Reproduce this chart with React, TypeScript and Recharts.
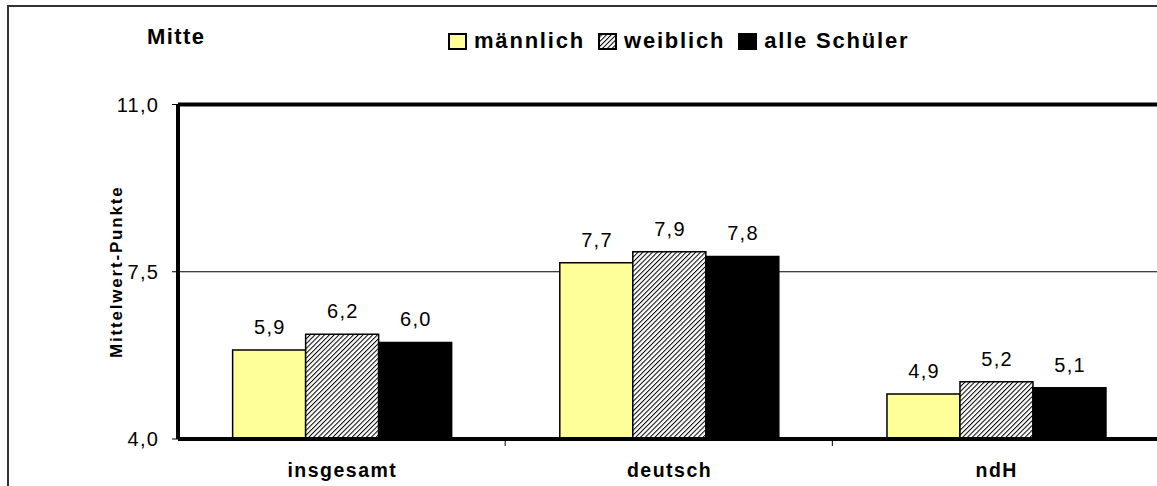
import { BarChart, Bar, XAxis, YAxis, CartesianGrid, ReferenceLine, LabelList } from 'recharts';

const categories = ['insgesamt', 'deutsch', 'ndH'];
const maennlich = [5.86, 7.69, 4.94];
const weiblich = [6.19, 7.92, 5.2];
const alleSchueler = [6.02, 7.82, 5.07];
const yTicks = [4, 7.5, 11];
const seriesNames = ['männlich', 'weiblich', 'alle Schüler'];

const data = categories.map((name, i) => ({
  name,
  m: maennlich[i],
  w: weiblich[i],
  a: alleSchueler[i],
}));

const FONT = '"Liberation Sans", Arial, Helvetica, sans-serif';

function fmt(v: number): string {
  return Number(v).toFixed(1).replace('.', ',');
}

function CategoryTick(props: any) {
  const { x, y, payload } = props;
  const half = payload && payload.offset ? payload.offset : 0;
  return (
    <g>
      {half > 0 && (
        <line x1={x + half} x2={x + half} y1={y - 6} y2={y - 1} stroke="#000" strokeWidth={1} />
      )}
      <text
        x={x}
        y={y + 30}
        dx={0.8}
        textAnchor="middle"
        style={{ fontSize: 19.5, fontWeight: 'bold', letterSpacing: 1.5, fontFamily: FONT }}
        fill="#000"
      >
        {payload.value}
      </text>
    </g>
  );
}

function ValueTick(props: any) {
  const { x, y, payload } = props;
  return (
    <text
      x={x + 1.3}
      y={y}
      textAnchor="end"
      dominantBaseline="central"
      style={{ fontSize: 20, letterSpacing: 1.3, fontFamily: FONT }}
      fill="#000"
    >
      {fmt(payload.value)}
    </text>
  );
}

function BarValue(props: any) {
  const { x, y, width, value } = props;
  return (
    <text
      x={x + width / 2 + 0.7}
      y={y - 16}
      textAnchor="middle"
      style={{ fontSize: 20, letterSpacing: 1.3, fontFamily: FONT }}
      fill="#000"
    >
      {fmt(value)}
    </text>
  );
}

function YTitle(props: any) {
  const vb = props.viewBox || { x: 116, y: 104.5, height: 334.5 };
  const cx = vb.x;
  const cy = vb.y + vb.height / 2;
  return (
    <text
      x={cx}
      y={cy}
      transform={`rotate(-90 ${cx} ${cy})`}
      textAnchor="middle"
      dominantBaseline="central"
      style={{ fontSize: 17, fontWeight: 'bold', letterSpacing: 1.8, fontFamily: FONT }}
      fill="#000"
    >
      Mittelwert-Punkte
    </text>
  );
}

function Swatch({ kind }: { kind: number }) {
  return (
    <svg width={19} height={17} style={{ display: 'block', marginRight: 7 }}>
      <defs>
        <pattern id="hatchLegend" patternUnits="userSpaceOnUse" width={3.4} height={3.4} patternTransform="rotate(45)">
          <rect width={3.4} height={3.4} fill="#fff" />
          <line x1={0} y1={0} x2={0} y2={3.4} stroke="#000" strokeWidth={2} />
        </pattern>
      </defs>
      <rect
        x={1}
        y={1}
        width={17}
        height={15}
        fill={kind === 0 ? '#FFFF99' : kind === 1 ? 'url(#hatchLegend)' : '#000'}
        stroke="#000"
        strokeWidth={2}
      />
    </svg>
  );
}

export default function App() {
  return (
    <div
      style={{
        position: 'absolute',
        left: 0,
        top: 0,
        width: 1157,
        height: 486,
        overflow: 'hidden',
        background: '#fff',
        fontFamily: FONT,
      }}
    >
      <div
        style={{
          position: 'absolute',
          left: 7,
          top: 5,
          width: 1400,
          height: 700,
          border: '2px solid #333',
        }}
      />
      <div
        style={{
          position: 'absolute',
          left: 147,
          top: 26,
          fontSize: 22,
          lineHeight: '22px',
          fontWeight: 'bold',
          letterSpacing: 1.4,
        }}
      >
        Mitte
      </div>
      <div
        style={{
          position: 'absolute',
          left: 448,
          top: 30,
          display: 'flex',
          alignItems: 'center',
          fontSize: 22,
          lineHeight: '22px',
          fontWeight: 'bold',
          letterSpacing: 1.8,
        }}
      >
        {seriesNames.map((n, i) => (
          <div key={n} style={{ display: 'flex', alignItems: 'center', marginRight: 13 }}>
            <Swatch kind={i} />
            <span>{n}</span>
          </div>
        ))}
      </div>
      <div style={{ position: 'absolute', left: 0, top: 0 }}>
        <BarChart
          width={1200}
          height={486}
          data={data}
          margin={{ top: 104.5, right: 40.5, bottom: 7, left: 116 }}
          barCategoryGap="16.7%"
          barGap={0}
        >
          <defs>
            <pattern id="hatch" patternUnits="userSpaceOnUse" width={3.4} height={3.4} patternTransform="rotate(45)">
              <rect width={3.4} height={3.4} fill="#fff" />
              <line x1={0} y1={0} x2={0} y2={3.4} stroke="#000" strokeWidth={2} />
            </pattern>
          </defs>
          <CartesianGrid vertical={false} stroke="#000" strokeWidth={1} />
          <XAxis
            dataKey="name"
            height={40}
            axisLine={{ stroke: '#000', strokeWidth: 4 }}
            tickLine={false}
            tick={<CategoryTick />}
            interval={0}
          />
          <YAxis
            type="number"
            domain={[4, 11]}
            ticks={yTicks}
            width={62}
            axisLine={{ stroke: '#000', strokeWidth: 4 }}
            tickLine={{ stroke: '#000', strokeWidth: 1 }}
            tickSize={6}
            tickMargin={14}
            tick={<ValueTick />}
            label={<YTitle />}
          />
          <ReferenceLine y={11} stroke="#000" strokeWidth={4} />
          <Bar dataKey="m" fill="#FFFF99" stroke="#000" strokeWidth={1.5} isAnimationActive={false}>
            <LabelList dataKey="m" content={<BarValue />} />
          </Bar>
          <Bar dataKey="w" fill="url(#hatch)" stroke="#000" strokeWidth={1.5} isAnimationActive={false}>
            <LabelList dataKey="w" content={<BarValue />} />
          </Bar>
          <Bar dataKey="a" fill="#000" stroke="#000" strokeWidth={1.5} isAnimationActive={false}>
            <LabelList dataKey="a" content={<BarValue />} />
          </Bar>
        </BarChart>
      </div>
    </div>
  );
}
